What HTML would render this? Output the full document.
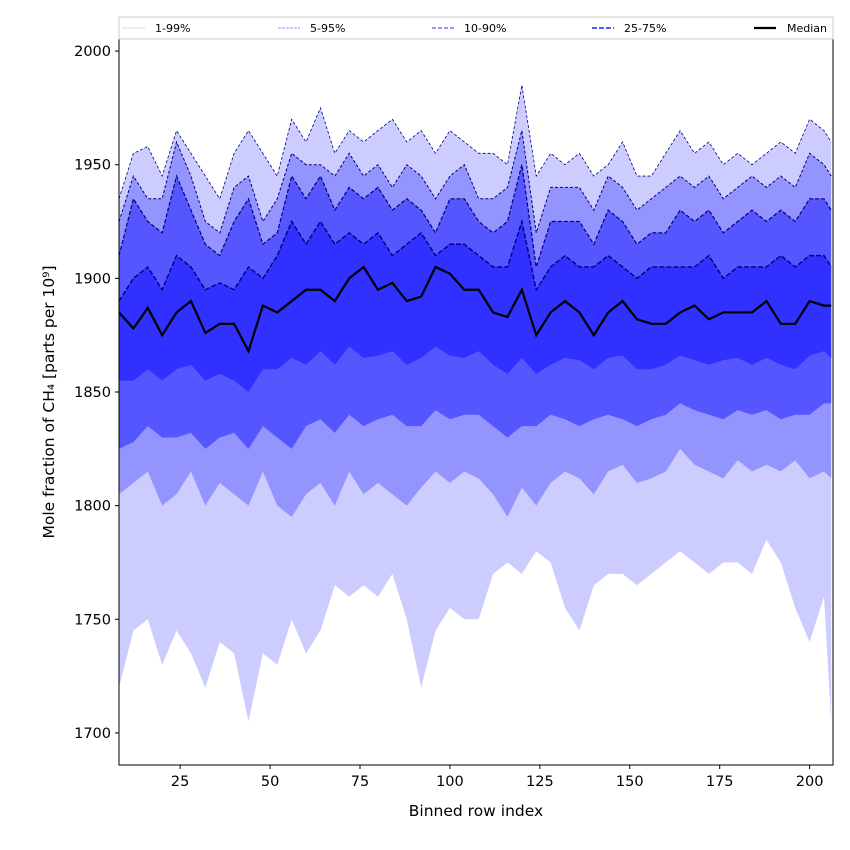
<!DOCTYPE html>
<html><head><meta charset="utf-8"><style>
body{margin:0;background:#fff;font-family:"DejaVu Sans","Liberation Sans",sans-serif}
svg{display:block}
</style></head><body>
<svg id="c" width="850" height="850" xmlns="http://www.w3.org/2000/svg" font-family="DejaVu Sans, Liberation Sans, sans-serif"></svg>
<script>
const xs=[8,12,16,20,24,28,32,36,40,44,48,52,56,60,64,68,72,76,80,84,88,92,96,100,104,108,112,116,120,124,128,132,136,140,144,148,152,156,160,164,168,172,176,180,184,188,192,196,200,204,206];
const p99=[1935,1955,1958,1945,1965,1955,1945,1935,1955,1965,1955,1945,1970,1960,1975,1955,1965,1960,1965,1970,1960,1965,1955,1965,1960,1955,1955,1950,1985,1945,1955,1950,1955,1945,1950,1960,1945,1945,1955,1965,1955,1960,1950,1955,1950,1955,1960,1955,1970,1965,1960];
const p95=[1925,1945,1935,1935,1960,1945,1925,1920,1940,1945,1925,1935,1955,1950,1950,1945,1955,1945,1950,1940,1950,1945,1935,1945,1950,1935,1935,1940,1965,1920,1940,1940,1940,1930,1945,1940,1930,1935,1940,1945,1940,1945,1935,1940,1945,1940,1945,1940,1955,1950,1945];
const p90=[1910,1935,1925,1920,1945,1930,1915,1910,1925,1935,1915,1920,1945,1935,1945,1930,1940,1935,1940,1930,1935,1930,1920,1935,1935,1925,1920,1925,1950,1905,1925,1925,1925,1915,1930,1925,1915,1920,1920,1930,1925,1930,1920,1925,1930,1925,1930,1925,1935,1935,1930];
const p75=[1890,1900,1905,1895,1910,1905,1895,1898,1895,1905,1900,1910,1925,1915,1925,1915,1920,1915,1920,1910,1915,1920,1910,1915,1915,1910,1905,1905,1925,1895,1905,1910,1905,1905,1910,1905,1900,1905,1905,1905,1905,1910,1900,1905,1905,1905,1910,1905,1910,1910,1905];
const p50=[1885,1878,1887,1875,1885,1890,1876,1880,1880,1868,1888,1885,1890,1895,1895,1890,1900,1905,1895,1898,1890,1892,1905,1902,1895,1895,1885,1883,1895,1875,1885,1890,1885,1875,1885,1890,1882,1880,1880,1885,1888,1882,1885,1885,1885,1890,1880,1880,1890,1888,1888];
const p25=[1855,1855,1860,1855,1860,1862,1855,1858,1855,1850,1860,1860,1865,1862,1868,1862,1870,1865,1866,1868,1862,1865,1870,1866,1865,1868,1862,1858,1865,1858,1862,1865,1864,1860,1865,1866,1860,1860,1862,1866,1864,1862,1864,1865,1862,1865,1862,1860,1866,1868,1865];
const p10=[1825,1828,1835,1830,1830,1832,1825,1830,1832,1825,1835,1830,1825,1835,1838,1832,1840,1835,1838,1840,1835,1835,1842,1838,1840,1840,1835,1830,1835,1835,1840,1838,1835,1838,1840,1838,1835,1838,1840,1845,1842,1840,1838,1842,1840,1842,1838,1840,1840,1845,1845];
const p5=[1805,1810,1815,1800,1805,1815,1800,1810,1805,1800,1815,1800,1795,1805,1810,1800,1815,1805,1810,1805,1800,1808,1815,1810,1815,1812,1805,1795,1808,1800,1810,1815,1812,1805,1815,1818,1810,1812,1815,1825,1818,1815,1812,1820,1815,1818,1815,1820,1812,1815,1812];
const p1=[1720,1745,1750,1730,1745,1735,1720,1740,1735,1705,1735,1730,1750,1735,1745,1765,1760,1765,1760,1770,1750,1720,1745,1755,1750,1750,1770,1775,1770,1780,1775,1755,1745,1765,1770,1770,1765,1770,1775,1780,1775,1770,1775,1775,1770,1785,1775,1755,1740,1760,1705];
const xTicks=[25,50,75,100,125,150,175,200];
const yTicks=[1700,1750,1800,1850,1900,1950,2000];

const L=119,R=833,T=39,B=765,X0=8,X1=206.5,Y0=1685.9,Y1=2005.3;
const sx=v=>L+(v-X0)/(X1-X0)*(R-L);
const sy=v=>B-(v-Y0)/(Y1-Y0)*(B-T);
const NS="http://www.w3.org/2000/svg";
const svg=document.getElementById('c');
function mk(t,a,p){const e=document.createElementNS(NS,t);for(const k in a)e.setAttribute(k,a[k]);(p||svg).appendChild(e);return e;}
const clip=mk('clipPath',{id:'pc'});mk('rect',{x:L,y:T,width:R-L,height:B-T},clip);
const g=mk('g',{'clip-path':'url(#pc)'});
function band(lo,hi,col,name){
  let d='M'+xs.map((x,i)=>sx(x)+','+sy(hi[i])).join('L');
  for(let i=xs.length-1;i>=0;i--)d+='L'+sx(xs[i])+','+sy(lo[i]);
  const e=mk('path',{d:d+'Z',fill:col},g);
  
  
}
function line(arr,col,w,dash,name){
  const e=mk('path',{d:'M'+xs.map((x,i)=>sx(x)+','+sy(arr[i])).join('L'),fill:'none',stroke:col,'stroke-width':w,'stroke-dasharray':dash},g);
  
  
}
band(p1,p99,'#ccccff','band-1-99');
band(p5,p95,'#9494ff','band-5-95');
band(p10,p90,'#5656ff','band-10-90');
band(p25,p75,'#3030ff','band-25-75');
line(p99,'#000080',0.8,'3,2','line-p99');
line(p95,'#000080',1,'3,2','line-p95');
line(p90,'#000080',1.2,'4,2','line-p90');
line(p75,'#000080',1.4,'5,2','line-p75');
line(p50,'#000000',2.2,'','median-line');
mk('rect',{x:L,y:T,width:R-L,height:B-T,fill:'none',stroke:'#000','stroke-width':1});
xTicks.forEach(v=>{const x=sx(v);mk('line',{x1:x,x2:x,y1:B,y2:B+4,stroke:'#000'});
  const t=mk('text',{x:x,y:B+21,'text-anchor':'middle','font-size':14.5});t.textContent=v;
  });
yTicks.forEach(v=>{const y=sy(v);mk('line',{x1:L-4,x2:L,y1:y,y2:y,stroke:'#000'});
  const t=mk('text',{x:L-8,y:y+5,'text-anchor':'end','font-size':14.5});t.textContent=v;
  });
const xt=mk('text',{x:(L+R)/2,y:816,'text-anchor':'middle','font-size':15.5});xt.textContent='Binned row index';

const yt=mk('text',{x:0,y:0,'text-anchor':'middle','font-size':15.5,transform:'translate(54,402) rotate(-90)'});yt.textContent='Mole fraction of CH₄ [parts per 10⁹]';

const lg=mk('g',{});

mk('rect',{x:119,y:17,width:714,height:22,fill:'#fff',stroke:'#ccc'},lg);
const le=[['1-99%',123,'#ccccff',1,'3,1'],['5-95%',278,'#9494ff',1,'3,1'],['10-90%',432,'#7777ff',1.4,'4,2'],['25-75%',592,'#5555ff',2,'5,2'],['Median',754,'#000',2.2,'']];
le.forEach(([n,x,c,w,d])=>{mk('line',{x1:x,x2:x+22,y1:28,y2:28,stroke:c,'stroke-width':w,'stroke-dasharray':d},lg);
  const t=mk('text',{x:x+(n==='Median'?33:32),y:32,'font-size':11},lg);t.textContent=n;
  });
</script>
</body></html>
